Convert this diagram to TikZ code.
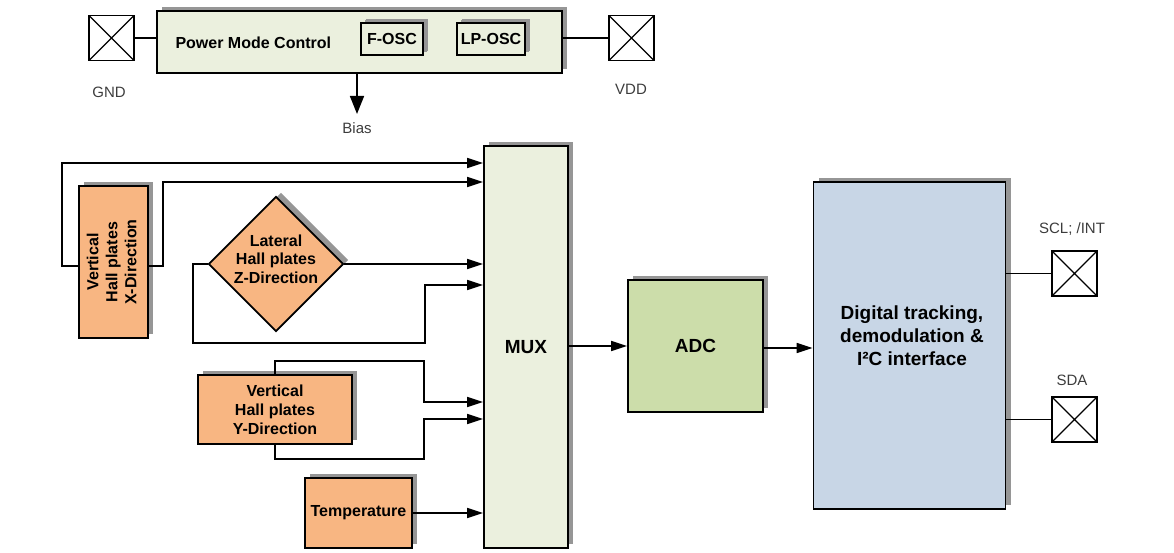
\documentclass[tikz,border=0pt]{standalone}
\usepackage{fontspec}
\setmainfont{Liberation Sans}
\usetikzlibrary{arrows.meta,shapes.geometric,shadows}
\definecolor{pmcfill}{RGB}{235,240,222}
\definecolor{hallfill}{RGB}{248,182,130}
\definecolor{adcfill}{RGB}{204,221,170}
\definecolor{digfill}{RGB}{200,214,230}
\definecolor{shd}{RGB}{150,150,150}
\definecolor{lbl}{RGB}{60,60,60}
\begin{document}
\begin{tikzpicture}[x=1pt,y=-1pt,
  shadowed/.style={drop shadow={shadow xshift=5pt,shadow yshift=4pt,fill=shd,opacity=1}},
  box/.style={draw=black,line width=1.8pt,inner sep=0pt,align=center,shadowed,
    font=\bfseries\fontsize{16}{19}\selectfont},
  bigtext/.style={font=\bfseries\fontsize{19}{23}\selectfont},
  pad/.style={draw=black,line width=1.2pt,fill=white,minimum size=45pt,inner sep=0pt,
    path picture={\draw[line width=1.2pt] (path picture bounding box.south west) -- (path picture bounding box.north east)
      (path picture bounding box.north west) -- (path picture bounding box.south east);}},
  padlabel/.style={text=lbl,font=\fontsize{15}{17}\selectfont},
  wire/.style={line width=1.7pt},
  arr/.style={line width=1.7pt,-{Triangle[length=16pt,width=10pt]}}
]
\useasboundingbox (0,0) rectangle (1174,553);

% top power section
\node[box,fill=pmcfill,minimum width=405pt,minimum height=62pt] (pmc) at (359.5,42) {};
\node[anchor=west,font=\bfseries\fontsize{16}{19}\selectfont] (pmct) at (172,43) {Power Mode Control};
\node[box,fill=pmcfill,minimum width=62pt,minimum height=32pt,
  drop shadow={shadow xshift=4pt,shadow yshift=3pt,fill=shd,opacity=1}] (fosc) at (392,39) {F-OSC};
\node[box,fill=pmcfill,minimum width=68pt,minimum height=32pt,
  drop shadow={shadow xshift=4pt,shadow yshift=3pt,fill=shd,opacity=1}] (lposc) at (491,39) {LP-OSC};
\node[pad] (gnd) at (111.5,38) {};
\node[pad] (vdd) at (631.5,38) {};
\node[padlabel] (gndl) at (109,92) {GND};
\node[padlabel] (vddl) at (631,89) {VDD};
\node[padlabel] (bias) at (357,128) {Bias};
\draw[wire] (gnd.east) -- (pmc.west |- gnd.east);
\draw[wire] (pmc.east |- vdd.west) -- (vdd.west);
\draw[line width=1.7pt,-{Triangle[length=18pt,width=14pt]}] (pmc.south -| bias.north) -- ([yshift=5pt]bias.north);

% sensors
\node[box,fill=hallfill,minimum width=69pt,minimum height=152pt] (vx) at (113.5,262)
  {\rotatebox{90}{\begin{tabular}{@{}c@{}}Vertical\\Hall plates\\X-Direction\end{tabular}}};
\node[diamond,draw=black,line width=1.8pt,fill=hallfill,minimum width=135pt,minimum height=135pt,
  aspect=1,inner sep=0pt,shadowed] (lz) at (276,264) {};
\node[align=center,font=\bfseries\fontsize{16}{18.5}\selectfont] (lzt) at (276,259) {Lateral\\Hall plates\\Z-Direction};
\node[box,fill=hallfill,minimum width=154pt,minimum height=69pt] (vy) at (275,409.5)
  {Vertical\\Hall plates\\Y-Direction};
\node[box,fill=hallfill,minimum width=107pt,minimum height=70pt] (tmp) at (358.5,513) {Temperature};

% processing chain
\node[box,bigtext,fill=pmcfill,minimum width=84pt,minimum height=402pt] (mux) at (526,347) {MUX};
\node[box,bigtext,fill=adcfill,minimum width=135pt,minimum height=132pt] (adc) at (695.5,346) {ADC};
\node[box,bigtext,fill=digfill,minimum width=192pt,minimum height=327pt] (dig) at (909.5,345.5) {};
\node[bigtext,align=center] (digt) at (912,336) {Digital tracking,\\demodulation \&\\I²C interface};

% output pads
\node[pad] (scl) at (1074.5,273.5) {};
\node[pad] (sda) at (1074.5,419.5) {};
\node[padlabel] (scll) at (1072,229) {SCL; /INT};
\node[padlabel] (sdal) at (1072,380) {SDA};
\draw[wire] (dig.east |- scl.west) -- (scl.west);
\draw[wire] (dig.east |- sda.west) -- (sda.west);

% connectors into MUX
\draw[arr] (vx.west |- 0,266) -- (62,266) |- (mux.west |- 0,163);
\draw[arr] (vx.east |- 0,266) -- (163,266) |- (mux.west |- 0,182);
\draw[arr] (lz.east) -- (mux.west |- lz.east);
\draw[arr] (lz.west) -- (193,264) |- (425,343) |- (mux.west |- 0,285);
\draw[arr] (vy.north) |- (424,361) |- (mux.west |- 0,402);
\draw[arr] (vy.south) |- (424,459) |- (mux.west |- 0,419);
\draw[arr] (tmp.east) -- (mux.west |- tmp.east);
\draw[arr] (mux.east |- 0,346) -- (adc.west |- 0,346);
\draw[arr] (adc.east |- 0,348) -- (dig.west |- 0,348);
\end{tikzpicture}
\end{document}
